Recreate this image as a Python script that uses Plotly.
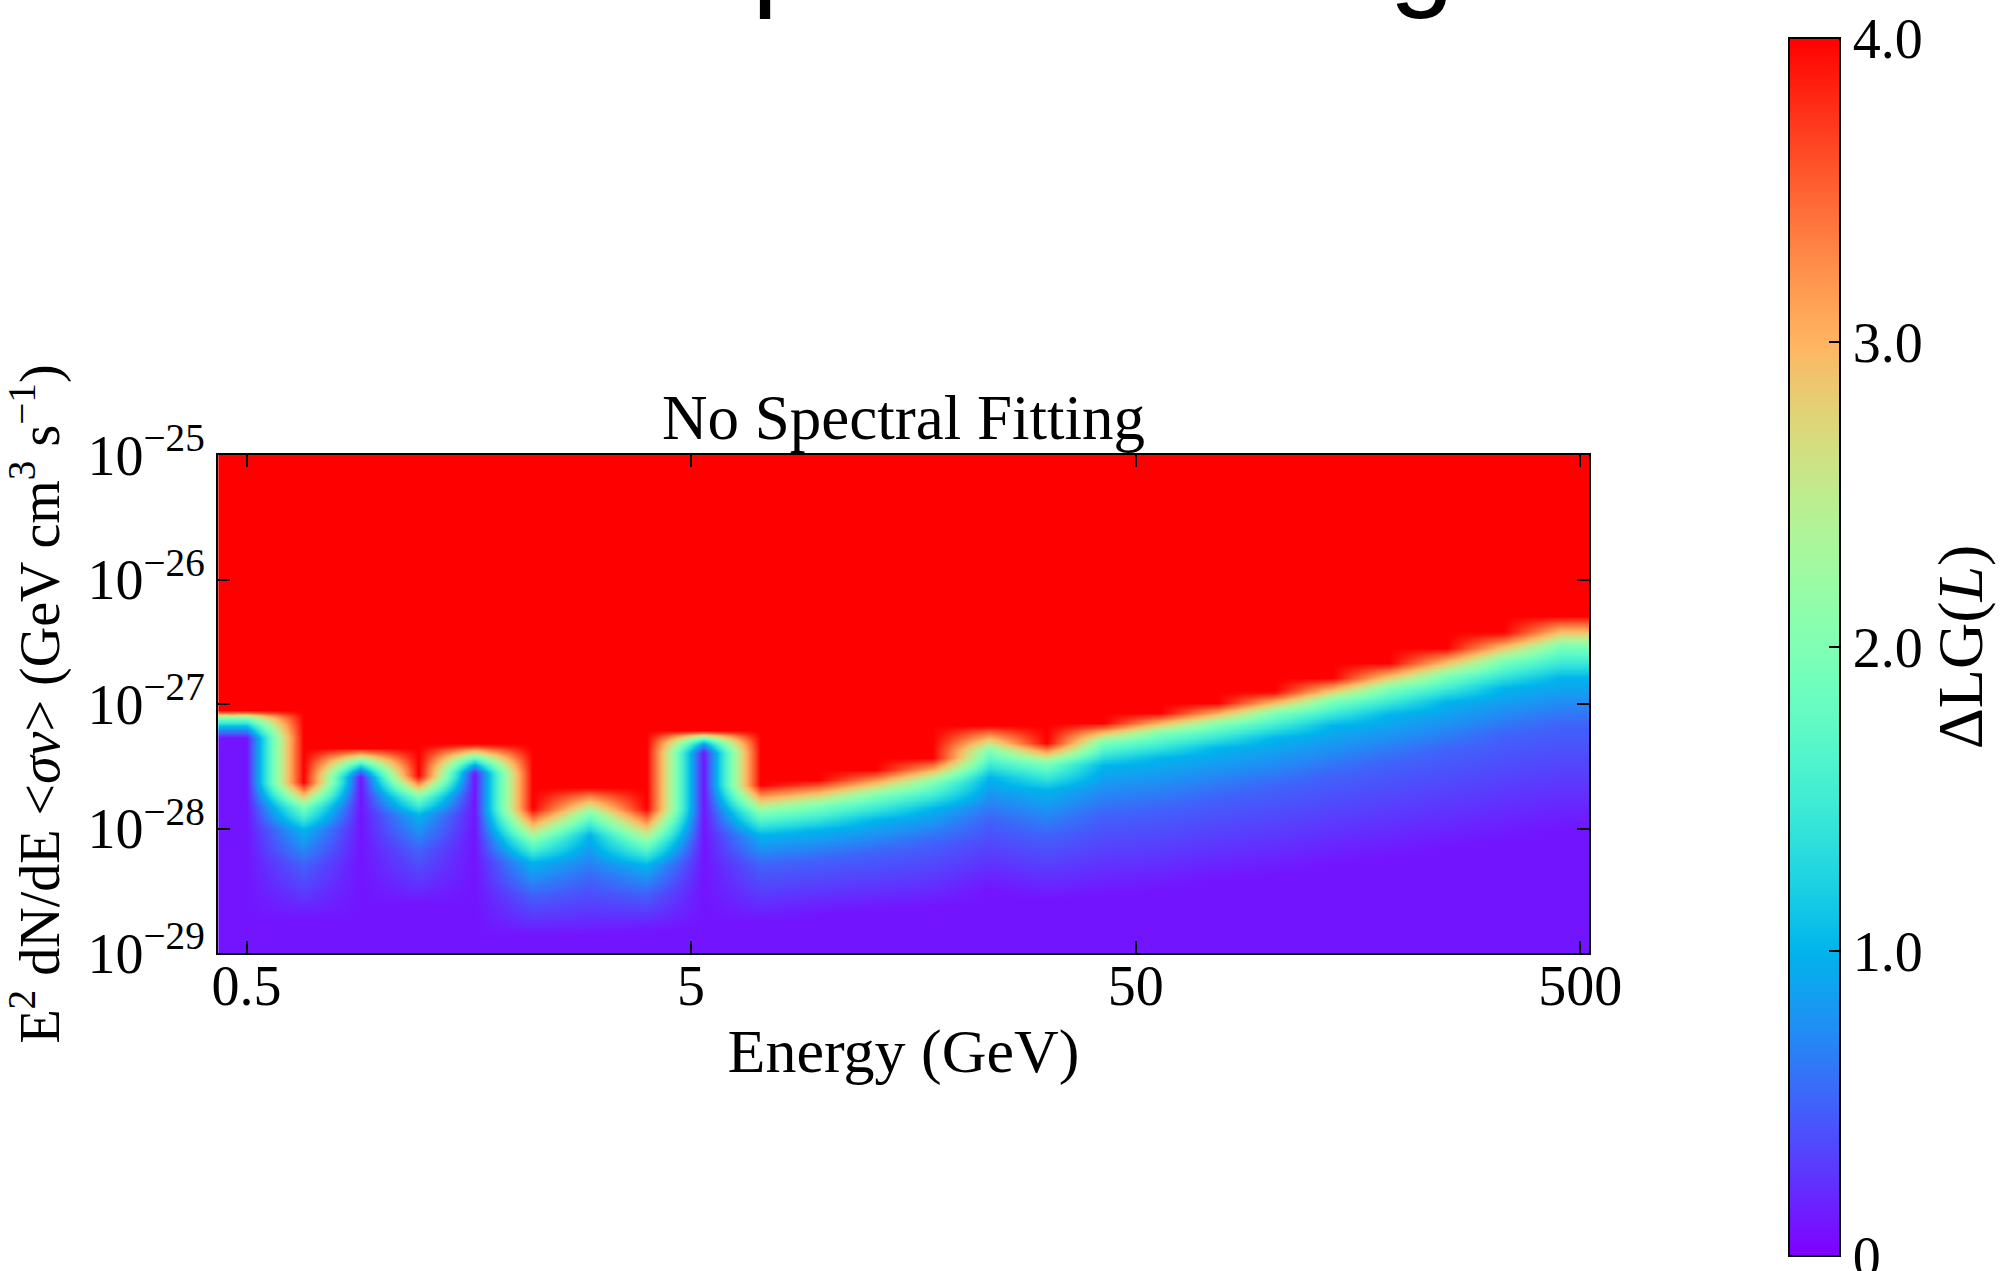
import numpy as np
import plotly.graph_objects as go

# ---- data -------------------------------------------------------------------
# energy-bin centres (GeV)
energy_gev = [0.50, 0.67, 0.90, 1.22, 1.63, 2.20, 2.95, 3.97, 5.33, 7.17, 9.64, 12.96,
              17.42, 23.41, 31.48, 42.31, 56.88, 76.46, 102.8, 138.2, 185.8, 249.7, 335.7, 451.3]

# log10(<sigma v>) at which Delta LG(L) reaches each level, per energy bin
dlg_levels = [0.1, 0.5, 1.0, 2.0, 4.0]
lgsig_dlg01 = [-27.27, -28.73, -27.59, -28.61, -27.56, -28.86, -28.86, -28.82, -27.39, -28.75, -28.69, -28.66,
               -28.63, -28.49, -28.57, -28.53, -28.49, -28.41, -28.37, -28.29, -28.23, -28.16, -28.09, -28.01]
lgsig_dlg05 = [-27.23, -28.29, -27.55, -28.17, -27.52, -28.53, -28.41, -28.52, -27.35, -28.29, -28.25, -28.19,
               -28.11, -27.93, -28.05, -27.89, -27.84, -27.75, -27.67, -27.57, -27.47, -27.37, -27.25, -27.17]
lgsig_dlg1 = [-27.18, -28.01, -27.51, -27.89, -27.48, -28.27, -28.05, -28.29, -27.31, -28.05, -28.01, -27.93,
              -27.84, -27.59, -27.69, -27.49, -27.43, -27.35, -27.27, -27.17, -27.08, -26.98, -26.87, -26.79]
lgsig_dlg2 = [-27.11, -27.82, -27.45, -27.74, -27.42, -28.09, -27.88, -28.11, -27.27, -27.87, -27.81, -27.73,
              -27.63, -27.37, -27.47, -27.30, -27.23, -27.16, -27.07, -26.97, -26.87, -26.77, -26.65, -26.53]
lgsig_dlg4 = [-27.05, -27.63, -27.35, -27.58, -27.32, -27.84, -27.67, -27.84, -27.21, -27.65, -27.61, -27.53,
              -27.43, -27.17, -27.31, -27.15, -27.07, -26.99, -26.90, -26.79, -26.67, -26.55, -26.42, -26.29]

x_ticks = [0.5, 5, 50, 500]
x_ticktext = ["0.5", "5", "50", "500"]
y_ticks = [-29, -28, -27, -26, -25]
cb_ticks = [0, 1, 2, 3, 4]
cb_ticktext = ["0", "1.0", "2.0", "3.0", "4.0"]

# ---- table for the heatmap -----------------------------------------------------
lg_grid = np.round(np.arange(-28.99, -25.0, 0.02), 3)
cols = []
for i in range(len(energy_gev)):
    xp = [lgsig_dlg01[i], lgsig_dlg05[i], lgsig_dlg1[i], lgsig_dlg2[i], lgsig_dlg4[i]]
    cols.append(np.interp(lg_grid, xp, dlg_levels))
z = np.array(cols).T  # rows = cross-section, cols = energy

# matplotlib "rainbow" colormap
def rainbow(t):
    r = abs(2 * t - 0.5)
    g = np.sin(np.pi * t)
    b = np.cos(np.pi * t / 2)
    return "rgb(%d,%d,%d)" % tuple(int(round(255 * min(max(c, 0), 1))) for c in (r, g, b))

colorscale = [[s, rainbow(s)] for s in np.linspace(0, 1, 33)]

SERIF = "Liberation Serif, Times New Roman, serif"

fig = go.Figure()
fig.add_trace(go.Heatmap(
    x=np.log10(energy_gev), y=lg_grid, z=z,
    zmin=0, zmax=4, zsmooth="best", colorscale=colorscale,
    colorbar=dict(
        thickness=51, len=1218, lenmode="pixels",
        x=1.1457, xanchor="left", y=0.6145, yanchor="middle",
        xpad=0, ypad=0,
        outlinewidth=2, outlinecolor="black",
        ticks="inside", ticklen=12, tickwidth=2, tickcolor="black",
        tickvals=cb_ticks, ticktext=cb_ticktext, ticklabeloverflow="allow",
        tickfont=dict(family=SERIF, size=56, color="black"),
        title=dict(text="ΔLG(<i>L</i>)", side="right",
                   font=dict(family=SERIF, size=64, color="black")),
    ),
    hoverinfo="skip",
))

axis_common = dict(
    showgrid=False, zeroline=False, showline=True, linewidth=2, linecolor="black",
    mirror="allticks", ticks="inside", ticklen=12, tickwidth=2, tickcolor="black",
    tickfont=dict(family=SERIF, size=56, color="black"),
)

fig.update_xaxes(
    range=[-0.3653, 2.7188], tickvals=np.log10(x_ticks).tolist(), ticktext=x_ticktext,
    ticklabelstandoff=-17,
    title=dict(text="Energy (GeV)", font=dict(family=SERIF, size=62, color="black"), standoff=12),
    **axis_common,
)
fig.update_yaxes(
    range=[-29, -25], tickvals=y_ticks,
    ticktext=["10<sup>\u2212%d</sup>" % (-v) for v in y_ticks],
    title=dict(text="E<sup>2</sup> dN/dE &lt;<i>σv</i>&gt; (GeV cm<sup>3</sup> s<sup>\u22121</sup>)",
               font=dict(family=SERIF, size=56, color="black"), standoff=18),
    **axis_common,
)

fig.update_layout(
    width=2009, height=1271,
    margin=dict(l=218, r=418, t=455, b=318, pad=0),
    paper_bgcolor="white", plot_bgcolor="white",
    showlegend=False,
    annotations=[
        dict(text="No Spectral Fitting", x=0.5, y=1.0, xref="paper", yref="paper",
             xanchor="center", yanchor="bottom", showarrow=False,
             font=dict(family=SERIF, size=63, color="black")),
        dict(text="No Spectral Fitting", x=0.5506, y=1.8695, xref="paper", yref="paper",
             xanchor="center", yanchor="bottom", showarrow=False,
             font=dict(family="Liberation Sans, Arial, sans-serif", size=117, color="black")),
    ],
)

fig.write_html("out.html", config={"displayModeBar": False},
               post_script="document.body.style.margin='0px';")
